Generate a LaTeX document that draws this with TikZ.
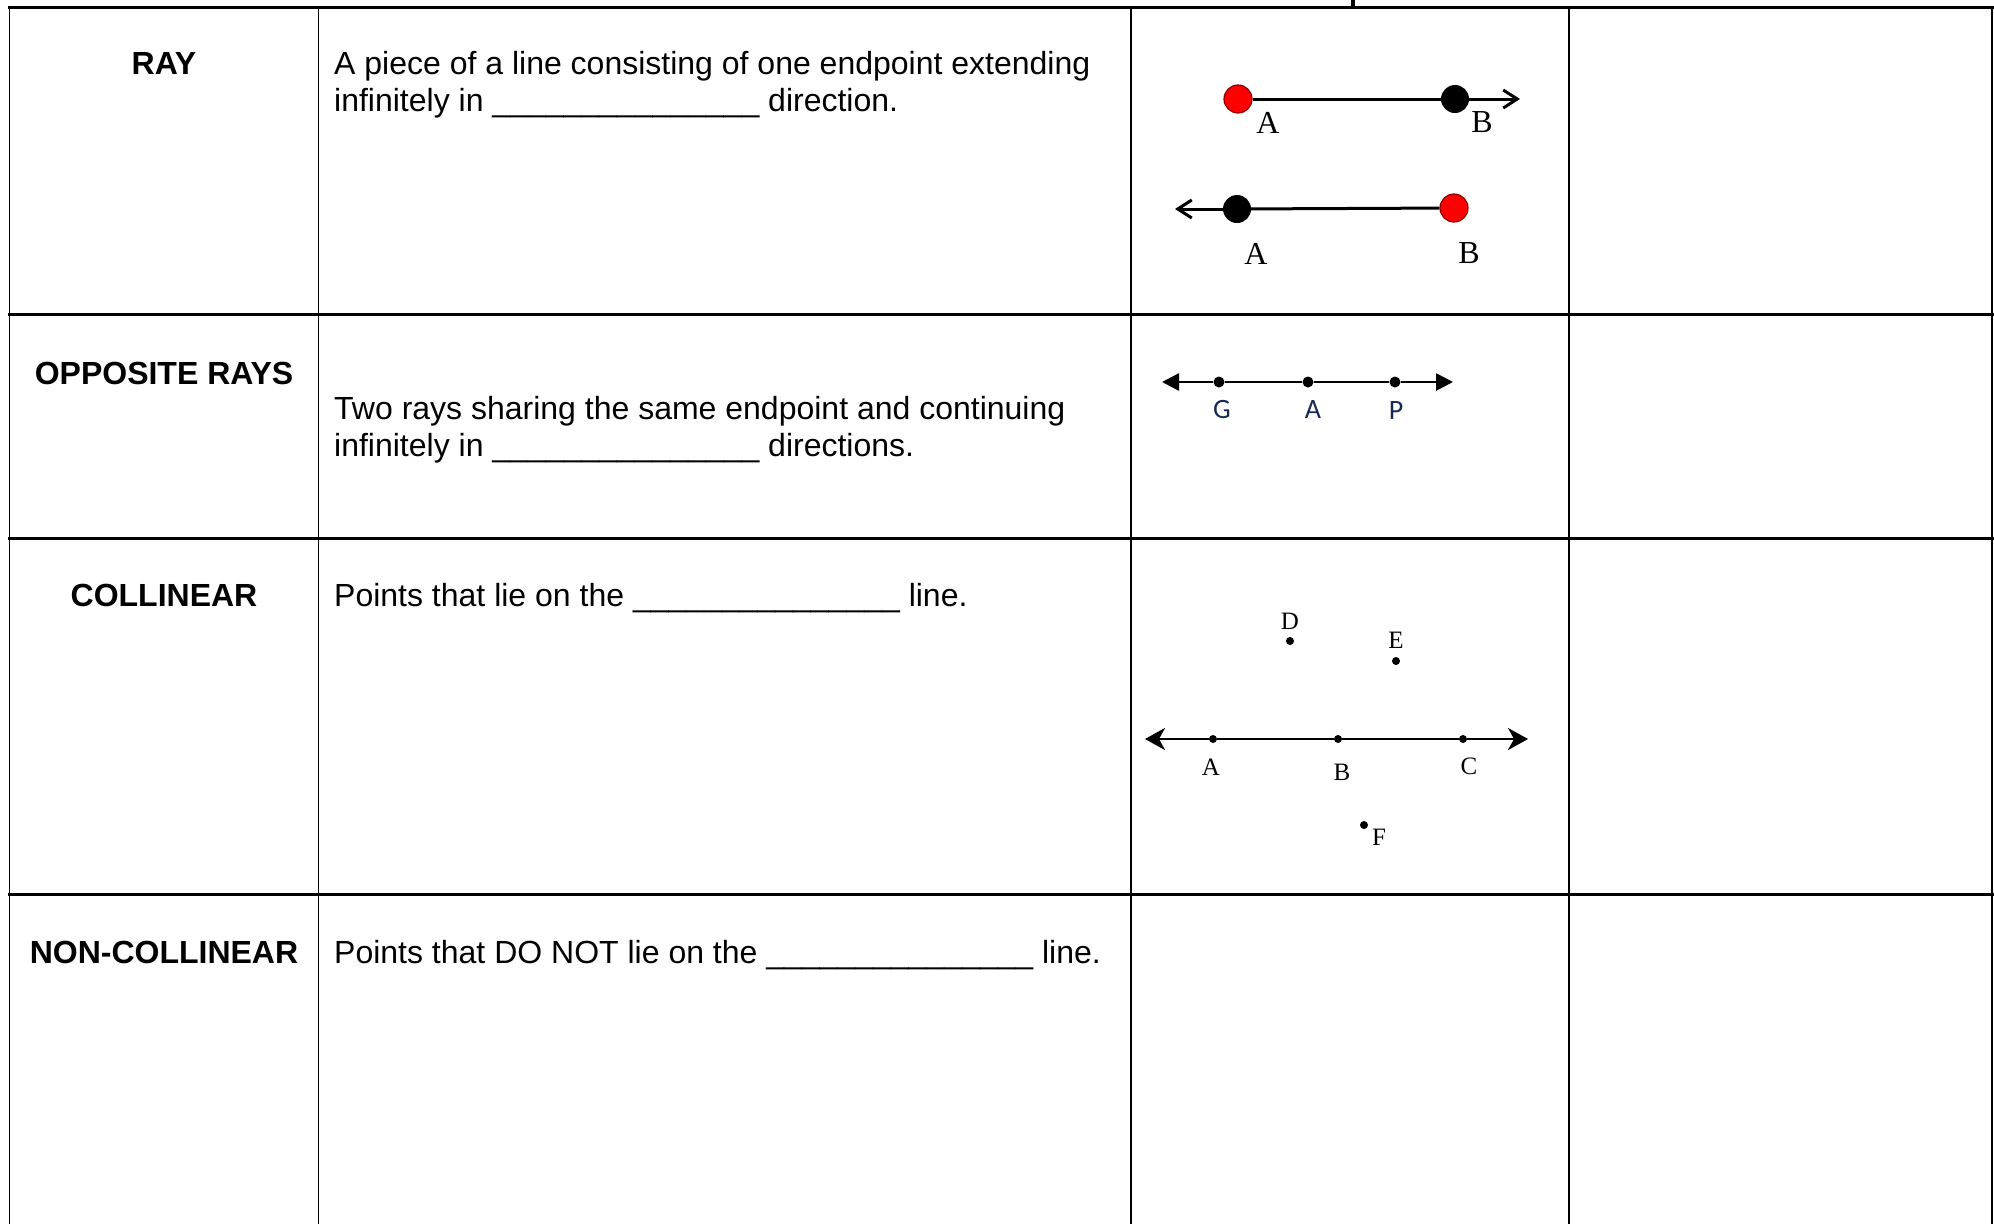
\documentclass[tikz,border=0pt]{standalone}
\usepackage{fontspec}
\setmainfont{Liberation Sans}
\newfontfamily\timesfont{Liberation Serif}
\newfontfamily\calfont{Carlito}
\usetikzlibrary{arrows.meta}
\definecolor{ptblue}{RGB}{24,42,84}

\def\ca{9.5}
\def\cb{318.5}
\def\cc{1131}
\def\cd{1569}
\def\ce{1992}
\def\mid{164}
\def\tx{334}
\tikzstyle{grid}=[line width=1.6pt]
\tikzstyle{rowln}=[line width=3pt]
\tikzstyle{hd}=[font=\fontsize{32}{36}\selectfont\bfseries,inner sep=0pt,anchor=base]
\tikzstyle{txt}=[font=\fontsize{32}{36}\selectfont,inner sep=0pt,anchor=base west]
\tikzstyle{rp}=[circle,draw=red!55!black,fill=red,line width=1.2pt,minimum size=28pt,inner sep=0pt]
\tikzstyle{bp}=[circle,fill=black,minimum size=28pt,inner sep=0pt]
\tikzstyle{gp}=[circle,fill=black,minimum size=11pt,inner sep=0pt]
\tikzstyle{cp}=[circle,fill=black,minimum size=8pt,inner sep=0pt]
\tikzstyle{rlab}=[font=\timesfont\fontsize{32}{32}\selectfont,inner sep=0pt]
\tikzstyle{glab}=[font=\calfont\fontsize{28}{28}\selectfont,text=ptblue,inner sep=0pt]
\tikzstyle{clab}=[font=\timesfont\fontsize{25}{25}\selectfont,inner sep=0pt]

\begin{document}
\begin{tikzpicture}[x=1pt,y=-1pt]
\useasboundingbox (0,0) rectangle (1994,1224);
% table
\fill (1350.5,0) rectangle (1354.5,7);
\foreach \y in {7,314.5,538,894.5}
  \draw[rowln] (8,\y) -- (1994,\y);
\foreach \x in {\ca,\cb,\cc,\cd,\ce}
  \draw[grid] (\x,7) -- (\x,1224);

\node[hd](h1) at (\mid,74.3){RAY};
\node[hd](h2) at (\mid,384){OPPOSITE RAYS};
\node[hd](h3) at (\mid,606){COLLINEAR};
\node[hd](h4) at (\mid,963){NON-COLLINEAR};

\node[txt](t1a) at (\tx,74.3){A piece of a line consisting of one endpoint extending};
\node[txt](t1b) at (\tx,111){infinitely in \_\_\_\_\_\_\_\_\_\_\_\_\_\_\_ direction.};
\node[txt](t2a) at (\tx,419){Two rays sharing the same endpoint and continuing};
\node[txt](t2b) at (\tx,456){infinitely in \_\_\_\_\_\_\_\_\_\_\_\_\_\_\_ directions.};
\node[txt](t3) at (\tx,606){Points that lie on the \_\_\_\_\_\_\_\_\_\_\_\_\_\_\_ line.};
\node[txt](t4) at (\tx,963){Points that DO NOT lie on the \_\_\_\_\_\_\_\_\_\_\_\_\_\_\_ line.};

% rays
\node[rp](r1A) at (1238,99){};
\node[bp](r1B) at (1455,99){};
\coordinate (r1e) at (1520,99);
\draw[line width=3pt](r1A)--(r1B);
\draw[line width=3pt,-{Straight Barb[length=14pt,width=18pt]}](r1B)--(r1e);
\node[rlab](l1A) at (1268,122.5){A};
\node[rlab](l1B) at (1482,122.5){B};

\node[bp](r2A) at (1237,209){};
\node[rp](r2B) at (1454,208){};
\coordinate (r2e) at (1175,209);
\draw[line width=3pt](r2A)--(r2B);
\draw[line width=3pt,-{Straight Barb[length=14pt,width=18pt]}](r2A)--(r2e);
\node[rlab](l2A) at (1256,253.5){A};
\node[rlab](l2B) at (1469,253.5){B};

% opposite rays
\node[gp](oG) at (1219,382){};
\node[gp](oA) at (1308,382){};
\node[gp](oP) at (1395,382){};
\coordinate (oL) at (1162,382);
\coordinate (oR) at (1453,382);
\draw[line width=2.7pt,-{Triangle[length=17pt,width=17pt]}](oG)--(oL);
\draw[line width=2.7pt](oG)--(oA);
\draw[line width=2.7pt](oA)--(oP);
\draw[line width=2.7pt,-{Triangle[length=17pt,width=17pt]}](oP)--(oR);
\node[glab](gG) at (1222,410){G};
\node[glab](gA) at (1313,410){A};
\node[glab](gP) at (1396,411){P};

% collinear
\node[cp](cA) at (1213,739){};
\node[cp](cB) at (1338,739){};
\node[cp](cC) at (1463,739){};
\node[cp](cD) at (1290,641){};
\node[cp](cE) at (1396,661){};
\node[cp](cF) at (1364,825){};
\coordinate (cL) at (1145,739);
\coordinate (cR) at (1528,739);
\draw[line width=2.5pt,-{Stealth[length=20pt,width=22pt,inset=6pt]}](cA)--(cL);
\draw[line width=2.5pt](cA)--(cB);
\draw[line width=2.5pt](cB)--(cC);
\draw[line width=2.5pt,-{Stealth[length=20pt,width=22pt,inset=6pt]}](cC)--(cR);
\node[clab](kA) at (1211,767){A};
\node[clab](kB) at (1342,772){B};
\node[clab](kC) at (1469,766){C};
\node[clab](kD) at (1290,621){D};
\node[clab](kE) at (1396,640){E};
\node[clab](kF) at (1379,837){F};
\end{tikzpicture}
\end{document}
